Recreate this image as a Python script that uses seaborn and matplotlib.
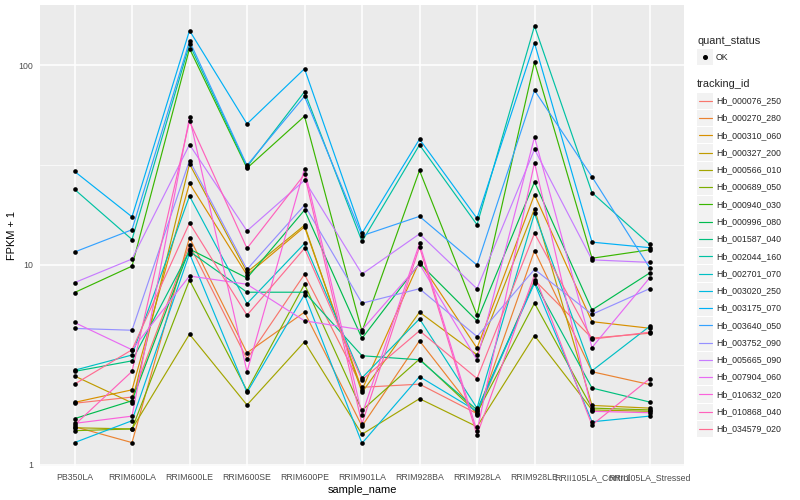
import matplotlib
matplotlib.use("Agg")
import matplotlib.pyplot as plt
from matplotlib.lines import Line2D
from matplotlib.patches import Rectangle
from matplotlib.ticker import FixedLocator, NullFormatter
import pandas as pd
import seaborn as sns

# --- data -----------------------------------------------------------------
samples = ["PB350LA", "RRIM600LA", "RRIM600LE", "RRIM600SE", "RRIM600PE",
           "RRIM901LA", "RRIM928BA", "RRIM928LA", "RRIM928LE",
           "RRII105LA_Control", "RRII105LA_Stressed"]

tracking_ids = ["Hb_000076_250", "Hb_000270_280", "Hb_000310_060", "Hb_000327_200",
                "Hb_000566_010", "Hb_000689_050", "Hb_000940_030", "Hb_000996_080",
                "Hb_001587_040", "Hb_002044_160", "Hb_002701_070", "Hb_003020_250",
                "Hb_003175_070", "Hb_003640_050", "Hb_003752_090", "Hb_005665_090",
                "Hb_007904_060", "Hb_010632_020", "Hb_010868_040", "Hb_034579_020"]

# FPKM + 1, one list per tracking_id, in sample order
hb_000076_250 = [2.03, 2.18, 12.6, 3.38, 8.97, 2.44, 2.53, 1.80, 8.4, 4.30, 4.55]
hb_000270_280 = [1.55, 1.29, 13.7, 3.63, 5.80, 1.56, 4.17, 1.78, 11.8, 2.92, 2.52]
hb_000310_060 = [2.05, 2.37, 25.6, 8.9, 15.5, 2.37, 10.4, 3.83, 22.5, 5.20, 4.82]
hb_000327_200 = [2.78, 2.04, 32.0, 9.2, 15.8, 2.30, 5.8, 3.55, 19.1, 1.98, 1.92]
hb_000566_010 = [1.53, 1.51, 4.5, 1.99, 4.12, 1.42, 2.14, 1.55, 4.43, 1.88, 1.85]
hb_000689_050 = [1.48, 1.51, 8.4, 2.35, 8.0, 1.87, 3.38, 1.82, 6.43, 1.92, 1.88]
hb_000940_030 = [7.27, 9.86, 121, 30.5, 55.5, 4.64, 29.7, 5.6, 103.5, 10.8, 11.9]
hb_000996_080 = [1.70, 2.09, 12.0, 8.6, 18.8, 4.29, 10.2, 5.25, 26.0, 5.95, 9.1]
hb_001587_040 = [2.93, 3.31, 11.7, 7.3, 7.3, 3.51, 3.35, 1.88, 8.2, 2.42, 2.06]
hb_002044_160 = [23.9, 13.4, 127, 31.0, 73.6, 13.1, 39.9, 15.9, 157, 23.0, 12.7]
hb_002701_070 = [2.97, 3.54, 22.1, 6.4, 12.8, 2.72, 5.37, 1.92, 18.1, 2.95, 4.92]
hb_003020_250 = [1.29, 1.66, 11.4, 2.30, 7.1, 1.28, 2.76, 1.85, 8.1, 1.64, 1.75]
hb_003175_070 = [29.4, 17.4, 149, 50.8, 95.9, 14.4, 42.6, 17.1, 129, 13.0, 12.2]
hb_003640_050 = [11.6, 15.0, 132, 31.5, 69.8, 14.0, 17.5, 9.98, 74.8, 27.6, 9.7]
hb_003752_090 = [4.81, 4.71, 33.3, 9.5, 19.9, 6.43, 7.6, 4.38, 9.5, 5.66, 7.6]
hb_005665_090 = [8.15, 10.7, 40.0, 14.8, 26.5, 9.0, 14.3, 7.6, 37.9, 10.6, 10.3]
hb_007904_060 = [5.15, 3.76, 8.8, 8.0, 5.25, 4.73, 10.1, 3.35, 43.6, 3.86, 8.6]
hb_010632_020 = [1.61, 1.75, 54.8, 2.92, 30.3, 1.78, 12.8, 1.47, 32.5, 1.85, 1.82]
hb_010868_040 = [1.58, 2.93, 52.4, 12.1, 28.4, 1.60, 12.3, 1.41, 8.9, 1.58, 2.69]
hb_034579_020 = [2.53, 3.76, 16.2, 5.6, 12.1, 2.66, 4.68, 2.70, 14.4, 4.25, 4.6]

series = [hb_000076_250, hb_000270_280, hb_000310_060, hb_000327_200, hb_000566_010,
          hb_000689_050, hb_000940_030, hb_000996_080, hb_001587_040, hb_002044_160,
          hb_002701_070, hb_003020_250, hb_003175_070, hb_003640_050, hb_003752_090,
          hb_005665_090, hb_007904_060, hb_010632_020, hb_010868_040, hb_034579_020]

# ggplot default hue palette, 20 levels
colors = ["#F8766D", "#EA8331", "#D89000", "#C09B00", "#A3A500", "#7CAE00", "#39B600",
          "#00BB4E", "#00BF7D", "#00C1A3", "#00BFC4", "#00BAE0", "#00B0F6", "#35A2FF",
          "#9590FF", "#C77CFF", "#E76BF3", "#FA62DB", "#FF62BC", "#FF6C91"]

rows = []
for tid, vals in zip(tracking_ids, series):
    for s, v in zip(samples, vals):
        rows.append({"tracking_id": tid, "sample_name": s, "fpkm1": v, "quant_status": "OK"})
df = pd.DataFrame(rows)

# --- plot -------------------------------------------------------------------
sns.set_style("white")
plt.rcParams["font.family"] = ["Liberation Sans", "DejaVu Sans"]

fig = plt.figure(figsize=(8, 5), dpi=100)
ax = fig.add_axes([40 / 800, 1 - 466 / 500, 644 / 800, 461 / 500])
ax.set_facecolor("#EBEBEB")

sns.lineplot(data=df, x="sample_name", y="fpkm1", hue="tracking_id",
             hue_order=tracking_ids, palette=colors, sort=False,
             linewidth=0.85, legend=False, ax=ax, zorder=3)
sns.scatterplot(data=df, x="sample_name", y="fpkm1", color="black", s=11,
                linewidth=0, legend=False, ax=ax, zorder=4)

ax.set_yscale("log")
ax.set_ylim(0.985, 200)
ax.set_xlim(-0.6, len(samples) - 0.4)
ax.yaxis.set_major_locator(FixedLocator([1, 10, 100]))
ax.set_yticklabels(["1", "10", "100"])
ax.yaxis.set_minor_locator(FixedLocator([10 ** 0.5, 10 ** 1.5]))
ax.yaxis.set_minor_formatter(NullFormatter())

ax.grid(which="major", color="white", linewidth=1.1, zorder=0)
ax.grid(which="minor", axis="y", color="white", linewidth=0.5, zorder=0)
ax.set_axisbelow(True)
for sp in ax.spines.values():
    sp.set_visible(False)
ax.tick_params(which="major", length=3, width=0.8, color="#333333",
               labelsize=6.3, labelcolor="#4D4D4D", pad=2)
ax.tick_params(which="minor", length=0)

ax.set_xlabel("sample_name", fontsize=7.9, color="black", labelpad=2)
ax.set_ylabel("FPKM + 1", fontsize=7.9, color="black", labelpad=1)

# --- legends, drawn ggplot-style ------------------------------------------
def fx(px):
    return px / 800


def fy(py):
    return 1 - py / 500


key_w, key_h = 16, 16.4
key_x = 697
text_x = 716

fig.text(fx(key_x), fy(40.5), "quant_status", fontsize=7.9, va="center", ha="left")
fig.patches.append(Rectangle((fx(key_x), fy(57 + key_h / 2)), fx(key_w), key_h / 500,
                             transform=fig.transFigure, facecolor="#F2F2F2",
                             edgecolor="none"))
fig.add_artist(Line2D([fx(key_x + key_w / 2)], [fy(57)], marker="o", color="black",
                      markersize=2.6, linestyle="none", transform=fig.transFigure))
fig.text(fx(text_x), fy(57), "OK", fontsize=6.3, va="center", ha="left")

fig.text(fx(key_x), fy(84.3), "tracking_id", fontsize=7.9, va="center", ha="left")
for i, (tid, col) in enumerate(zip(tracking_ids, colors)):
    cy = 100.7 + i * 17.28
    fig.patches.append(Rectangle((fx(key_x), fy(cy + key_h / 2)), fx(key_w), key_h / 500,
                                 transform=fig.transFigure, facecolor="#F2F2F2",
                                 edgecolor="none"))
    fig.add_artist(Line2D([fx(key_x + 1.5), fx(key_x + key_w - 1.5)], [fy(cy), fy(cy)],
                          color=col, linewidth=0.85, transform=fig.transFigure))
    fig.text(fx(text_x), fy(cy), tid, fontsize=6.3, va="center", ha="left")

fig.savefig("out.png", dpi=100)
